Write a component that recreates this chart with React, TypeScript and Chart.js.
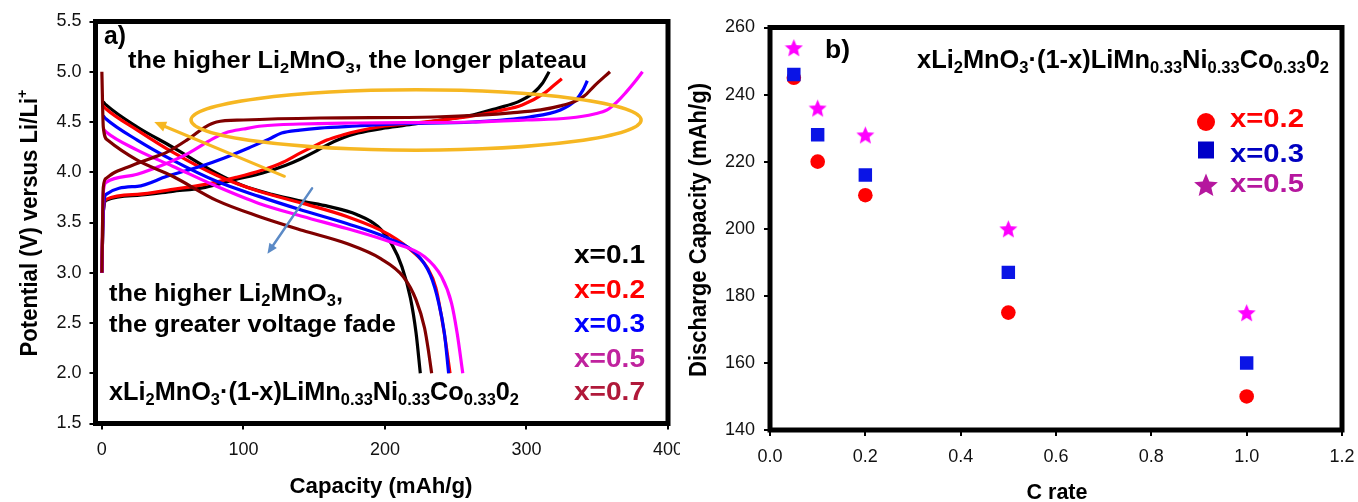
import React, { useEffect, useRef } from 'react';
import { Chart, registerables } from 'chart.js';

Chart.register(...registerables);

// ---------------- Panel a: charge / discharge curves [capacity mAh/g, potential V]
const chargeX01: number[][] = [[0,3.0],[1,3.6],[3,3.72],[25,3.77],[50,3.81],[73,3.85],[95,3.93],[113,3.99],[130,4.07],[140,4.13],[150,4.2],[159,4.27],[170,4.34],[181,4.39],[200,4.44],[221,4.48],[240,4.52],[262,4.57],[280,4.64],[294,4.7],[305,4.79],[311,4.88],[316,5.0]];
const chargeX02: number[][] = [[0,3.0],[1,3.6],[3,3.73],[25,3.78],[50,3.83],[73,3.88],[95,3.95],[113,4.02],[128,4.1],[140,4.19],[150,4.26],[159,4.32],[170,4.37],[181,4.41],[200,4.46],[221,4.49],[240,4.52],[262,4.56],[280,4.61],[297,4.67],[313,4.79],[319,4.86],[325,4.93]];
const chargeX03: number[][] = [[0,3.0],[1,3.6],[3,3.78],[25,3.86],[46,3.96],[70,4.06],[86,4.14],[105,4.25],[118,4.33],[127,4.39],[140,4.42],[154,4.44],[180,4.46],[208,4.48],[262,4.5],[302,4.55],[324,4.62],[335,4.72],[340,4.82],[343,4.91]];
const chargeX05: number[][] = [[0,3.0],[1,3.8],[3,3.9],[25,3.98],[46,4.09],[60,4.18],[73,4.29],[82,4.36],[89,4.4],[100,4.43],[113,4.46],[140,4.48],[181,4.49],[262,4.5],[300,4.52],[330,4.54],[348,4.58],[357,4.62],[364,4.7],[370,4.79],[376,4.89],[382,5.0]];
const chargeX07: number[][] = [[0,3.0],[1,3.85],[3,3.94],[8,3.99],[20,4.06],[35,4.14],[46,4.2],[60,4.32],[73,4.45],[81,4.5],[100,4.52],[154,4.54],[235,4.55],[270,4.57],[289,4.59],[310,4.62],[324,4.66],[335,4.71],[341,4.76],[348,4.86],[359,5.0]];

const dischargeX01: number[][] = [[1,4.7],[3,4.67],[25,4.45],[50,4.25],[81,3.99],[99,3.87],[120,3.78],[142,3.71],[160,3.66],[180,3.58],[195,3.46],[205,3.28],[212,3.06],[218,2.75],[222,2.4],[225,2.0]];
const dischargeX02: number[][] = [[1,4.66],[3,4.63],[25,4.42],[50,4.2],[81,3.97],[111,3.81],[142,3.69],[173,3.56],[203,3.38],[222,3.18],[230,3.05],[236,2.85],[240,2.56],[243,2.3],[246,2.0]];
const dischargeX03: number[][] = [[1,4.56],[3,4.53],[25,4.32],[50,4.12],[81,3.91],[111,3.76],[142,3.62],[173,3.49],[203,3.34],[222,3.19],[232,2.98],[238,2.7],[242,2.4],[245,2.0]];
const dischargeX05: number[][] = [[1,4.43],[3,4.4],[25,4.22],[50,4.06],[81,3.86],[111,3.69],[142,3.56],[173,3.44],[203,3.31],[228,3.16],[240,2.96],[247,2.7],[251,2.4],[255,2.0]];
const dischargeX07: number[][] = [[0,5.0],[1,4.45],[4,4.32],[25,4.12],[50,3.96],[81,3.72],[111,3.56],[142,3.42],[173,3.29],[197,3.14],[213,2.96],[222,2.73],[228,2.45],[231,2.2],[233,2.0]];

const seriesLabelsA = ['x=0.1', 'x=0.2', 'x=0.3', 'x=0.5', 'x=0.7'];
const capacityTicksA = [0, 100, 200, 300, 400];
const potentialTicksA = [1.5, 2.0, 2.5, 3.0, 3.5, 4.0, 4.5, 5.0, 5.5];

// ---------------- Panel b: discharge capacity vs C rate
const cRates = [0.05, 0.1, 0.2, 0.5, 1.0];
const capacityX02 = [245, 220, 210, 175, 150];
const capacityX03 = [246, 228, 216, 187, 160];
const capacityX05 = [254, 236, 228, 200, 175];
const seriesLabelsB = ['x=0.2', 'x=0.3', 'x=0.5'];
const rateTicksB = [0, 0.2, 0.4, 0.6, 0.8, 1.0, 1.2];
const capacityTicksB = [140, 160, 180, 200, 220, 240, 260];

// ---------------- styling
const FONT = '"Liberation Sans", Arial, Helvetica, sans-serif';
const lineColors = ['#000000', '#ff0000', '#0000ff', '#ff00ff', '#800000'];
const legendColorsA = ['#000000', '#ff0000', '#0000ff', '#c0229e', '#b0193a'];

type Seg = [string, number]; // 0 normal, 1 subscript, 2 superscript

const formulaSegs: Seg[] = [['xLi', 0], ['2', 1], ['MnO', 0], ['3', 1], ['\u00b7(1-x)LiMn', 0], ['0.33', 1], ['Ni', 0], ['0.33', 1], ['Co', 0], ['0.33', 1], ['0', 0], ['2', 1]];
const plateauSegs: Seg[] = [['the higher Li', 0], ['2', 1], ['MnO', 0], ['3', 1], [', the longer plateau', 0]];
const fade1Segs: Seg[] = [['the higher Li', 0], ['2', 1], ['MnO', 0], ['3', 1], [',', 0]];
const fade2Segs: Seg[] = [['the greater voltage fade', 0]];

function richWidth(ctx: CanvasRenderingContext2D, segs: Seg[], size: number, weight: string) {
  let w = 0;
  for (const [t, k] of segs) {
    ctx.font = `${weight} ${k ? size * 0.65 : size}px ${FONT}`;
    w += ctx.measureText(t).width;
  }
  return w;
}

function drawRich(
  ctx: CanvasRenderingContext2D, segs: Seg[], x: number, y: number, size: number, color: string,
  target?: number, align: 'left' | 'center' | 'right' = 'left', rotate = false, weight = 'bold',
) {
  ctx.save();
  const nat = richWidth(ctx, segs, size, weight);
  const sx = target ? target / nat : 1;
  const total = nat * sx;
  ctx.translate(x, y);
  if (rotate) ctx.rotate(-Math.PI / 2);
  const start = align === 'left' ? 0 : align === 'center' ? -total / 2 : -total;
  ctx.translate(start, 0);
  ctx.scale(sx, 1);
  ctx.fillStyle = color;
  ctx.textAlign = 'left';
  ctx.textBaseline = 'alphabetic';
  let cx = 0;
  for (const [t, k] of segs) {
    const s = k ? size * 0.65 : size;
    ctx.font = `${weight} ${s}px ${FONT}`;
    const dy = k === 1 ? size * 0.2 : k === 2 ? -size * 0.42 : 0;
    ctx.fillText(t, cx, dy);
    cx += ctx.measureText(t).width;
  }
  ctx.restore();
}

function drawArrow(ctx: CanvasRenderingContext2D, x1: number, y1: number, x2: number, y2: number, color: string, w: number, head: number) {
  const ang = Math.atan2(y2 - y1, x2 - x1);
  ctx.save();
  ctx.strokeStyle = color;
  ctx.fillStyle = color;
  ctx.lineWidth = w;
  ctx.lineCap = 'round';
  ctx.beginPath();
  ctx.moveTo(x1, y1);
  ctx.lineTo(x2 - Math.cos(ang) * head * 0.7, y2 - Math.sin(ang) * head * 0.7);
  ctx.stroke();
  ctx.beginPath();
  ctx.moveTo(x2, y2);
  ctx.lineTo(x2 - head * Math.cos(ang - 0.42), y2 - head * Math.sin(ang - 0.42));
  ctx.lineTo(x2 - head * Math.cos(ang + 0.42), y2 - head * Math.sin(ang + 0.42));
  ctx.closePath();
  ctx.fill();
  ctx.restore();
}

function drawStarPath(ctx: CanvasRenderingContext2D, cx: number, cy: number, R: number, ratio: number) {
  ctx.beginPath();
  for (let k = 0; k < 10; k++) {
    const a = -Math.PI / 2 + (k * Math.PI) / 5;
    const r = k % 2 ? R * ratio : R;
    const px = cx + r * Math.cos(a);
    const py = cy + r * Math.sin(a);
    if (k === 0) ctx.moveTo(px, py); else ctx.lineTo(px, py);
  }
  ctx.closePath();
}

function makeStar(size: number, color: string) {
  const c = document.createElement('canvas');
  c.width = size;
  c.height = size;
  const g = c.getContext('2d')!;
  g.fillStyle = color;
  drawStarPath(g, size / 2, size / 2 + size * 0.05, size / 2, 0.45);
  g.fill();
  return c;
}

function frame(ctx: CanvasRenderingContext2D, ca: { left: number; top: number; right: number; bottom: number }) {
  ctx.save();
  ctx.strokeStyle = '#000';
  ctx.lineWidth = 5;
  ctx.lineJoin = 'miter';
  ctx.strokeRect(ca.left, ca.top, ca.right - ca.left, ca.bottom - ca.top);
  ctx.restore();
}

const tickFont = { family: FONT, size: 18, weight: 'normal' as const };

function fixedWidth(w: number) {
  return (s: any) => { s.width = w; s.paddingTop = 0; s.paddingBottom = 0; };
}
function fixedHeight(h: number) {
  return (s: any) => { s.height = h; s.paddingLeft = 0; s.paddingRight = 0; };
}
function setTicks(vals: number[]) {
  return (s: any) => { s.ticks = vals.map((v) => ({ value: v })); };
}

const panelAPlugin = {
  id: 'panelA',
  afterDatasetsDraw(chart: any) {
    const { ctx, chartArea: ca } = chart;
    const xs = chart.scales.x;
    const ys = chart.scales.y;
    const X = (v: number) => xs.getPixelForValue(v);
    const Y = (v: number) => ys.getPixelForValue(v);
    // orange ellipse around the plateau
    ctx.save();
    ctx.strokeStyle = '#f6b722';
    ctx.lineWidth = 3.5;
    ctx.beginPath();
    ctx.ellipse(X(222), Y(4.52), X(222 + 159) - X(222), Y(4.52) - Y(4.52 + 0.3), 0, 0, Math.PI * 2);
    ctx.stroke();
    ctx.restore();
    drawArrow(ctx, X(129), Y(3.96), X(37), Y(4.5), '#f6b722', 3, 13);
    drawArrow(ctx, X(148.5), Y(3.84), X(117), Y(3.19), '#5b8ac6', 2.5, 11);

    frame(ctx, ca);

    drawRich(ctx, [['a)', 0]], 104, 44, 26, '#000', 22);
    drawRich(ctx, plateauSegs, 128, 68, 23, '#000', 459);
    drawRich(ctx, fade1Segs, 109, 301, 24, '#000', 234);
    drawRich(ctx, fade2Segs, 109, 332, 24, '#000', 287);
    drawRich(ctx, formulaSegs, 109, 400, 25, '#000', 410);
    const legendBase = [263, 298, 332, 367, 400];
    seriesLabelsA.forEach((t, i) => drawRich(ctx, [[t, 0]], 574, legendBase[i], 25, legendColorsA[i], 71));

    // axis titles
    drawRich(ctx, [['Capacity (mAh/g)', 0]], 381, 493, 22, '#000', 183, 'center');
    drawRich(ctx, [['Potential (V) versus Li/Li', 0], ['+', 2]], 28 + 8.5, 223, 23, '#000', 267, 'center', true);
  },
};

const starData = makeStar(19, '#ff00ff');

const panelBPlugin = {
  id: 'panelB',
  afterDatasetsDraw(chart: any) {
    const { ctx, chartArea: ca } = chart;
    frame(ctx, ca);
    drawRich(ctx, [['b)', 0]], 145, 58, 26, '#000', 25);
    drawRich(ctx, formulaSegs, 649, 68, 25, '#000', 412, 'right');

    // legend
    ctx.save();
    ctx.fillStyle = '#ff0000';
    ctx.beginPath();
    ctx.arc(526, 122, 9, 0, Math.PI * 2);
    ctx.fill();
    ctx.fillStyle = '#0000c8';
    ctx.fillRect(526 - 8, 150 - 8.5, 16, 17);
    ctx.fillStyle = '#b5179e';
    drawStarPath(ctx, 526, 186, 12.5, 0.45);
    ctx.fill();
    ctx.restore();
    const cols = ['#ff0000', '#0000c0', '#b5179e'];
    const base = [127, 162, 192];
    seriesLabelsB.forEach((t, i) => drawRich(ctx, [[t, 0]], 550, base[i], 25, cols[i], 74));

    drawRich(ctx, [['C rate', 0]], 377, 499, 22, '#000', 61, 'center');
    drawRich(ctx, [['Discharge Capacity (mAh/g)', 0]], 17 + 8.5, 230, 23, '#000', 294, 'center', true);
  },
};

function toXY(arr: number[][]) {
  return arr.map(([x, y]) => ({ x, y }));
}

function configA(): any {
  const charges = [chargeX01, chargeX02, chargeX03, chargeX05, chargeX07];
  const discharges = [dischargeX01, dischargeX02, dischargeX03, dischargeX05, dischargeX07];
  const datasets: any[] = [];
  seriesLabelsA.forEach((lab, i) => {
    datasets.push({ label: lab + ' charge', data: toXY(charges[i]), borderColor: lineColors[i], order: 4 - i });
    datasets.push({ label: lab + ' discharge', data: toXY(discharges[i]), borderColor: lineColors[i], order: 4 - i });
  });
  return {
    type: 'line',
    data: { datasets },
    options: {
      responsive: false,
      animation: false,
      events: [],
      layout: { padding: { left: 0, right: 12, top: 21.5, bottom: 0 }, autoPadding: false },
      plugins: { legend: { display: false }, tooltip: { enabled: false } },
      elements: {
        point: { radius: 0 },
        line: { borderWidth: 3.2, cubicInterpolationMode: 'monotone', fill: false },
      },
      scales: {
        x: {
          type: 'linear', min: -4.5, max: 400,
          afterBuildTicks: setTicks(capacityTicksA),
          afterFit: fixedHeight(78.5),
          border: { display: false },
          grid: { drawOnChartArea: false, drawTicks: true, tickLength: 6, color: '#000', lineWidth: 2 },
          ticks: { font: tickFont, color: '#111', padding: 10, maxRotation: 0, callback: (v: number) => String(v) },
        },
        y: {
          type: 'linear', min: 1.5, max: 5.5,
          afterBuildTicks: setTicks(potentialTicksA),
          afterFit: fixedWidth(95.5),
          border: { display: false },
          grid: { drawOnChartArea: false, drawTicks: true, tickLength: 6, color: '#000', lineWidth: 2 },
          ticks: { font: tickFont, color: '#111', padding: 8, callback: (v: number) => Number(v).toFixed(1) },
        },
      },
    },
    plugins: [panelAPlugin],
  };
}

function configB(): any {
  const mk = (vals: number[]) => cRates.map((r, i) => ({ x: r, y: vals[i] }));
  return {
    type: 'scatter',
    data: {
      datasets: [
        { label: seriesLabelsB[2], data: mk(capacityX05), pointStyle: starData, pointRadius: 9, backgroundColor: '#ff00ff', borderWidth: 0, order: 0 },
        { label: seriesLabelsB[1], data: mk(capacityX03), pointStyle: 'rect', pointRadius: 9.5, backgroundColor: '#0a14e6', borderColor: '#0a14e6', borderWidth: 0, order: 1 },
        { label: seriesLabelsB[0], data: mk(capacityX02), pointStyle: 'circle', pointRadius: 7.3, backgroundColor: '#ff0000', borderColor: '#ff0000', borderWidth: 0, order: 2 },
      ],
    },
    options: {
      responsive: false,
      animation: false,
      events: [],
      layout: { padding: { left: 0, right: 16, top: 27.5, bottom: 0 }, autoPadding: false },
      plugins: { legend: { display: false }, tooltip: { enabled: false } },
      scales: {
        x: {
          type: 'linear', min: 0, max: 1.2,
          afterBuildTicks: setTicks(rateTicksB),
          afterFit: fixedHeight(72),
          border: { display: false },
          grid: { drawOnChartArea: false, drawTicks: true, tickLength: 6, color: '#000', lineWidth: 2 },
          ticks: { font: tickFont, color: '#111', padding: 10, maxRotation: 0, callback: (v: number) => Number(v).toFixed(1) },
        },
        y: {
          type: 'linear', min: 140, max: 260,
          afterBuildTicks: setTicks(capacityTicksB),
          afterFit: fixedWidth(90),
          border: { display: false },
          grid: { drawOnChartArea: false, drawTicks: true, tickLength: 6, color: '#000', lineWidth: 2 },
          ticks: { font: tickFont, color: '#111', padding: 9, callback: (v: number) => String(v) },
        },
      },
    },
    plugins: [panelBPlugin],
  };
}

export default function App() {
  const refA = useRef<HTMLCanvasElement>(null);
  const refB = useRef<HTMLCanvasElement>(null);
  useEffect(() => {
    const a = new Chart(refA.current as HTMLCanvasElement, configA());
    const b = new Chart(refB.current as HTMLCanvasElement, configB());
    return () => {
      a.destroy();
      b.destroy();
    };
  }, []);
  return (
    <div style={{ position: 'absolute', left: 0, top: 0, width: 1358, height: 502, background: '#fff', overflow: 'hidden' }}>
      <canvas ref={refA} width={680} height={502} style={{ position: 'absolute', left: 0, top: 0, width: 680, height: 502 }} />
      <canvas ref={refB} width={678} height={502} style={{ position: 'absolute', left: 680, top: 0, width: 678, height: 502 }} />
    </div>
  );
}
